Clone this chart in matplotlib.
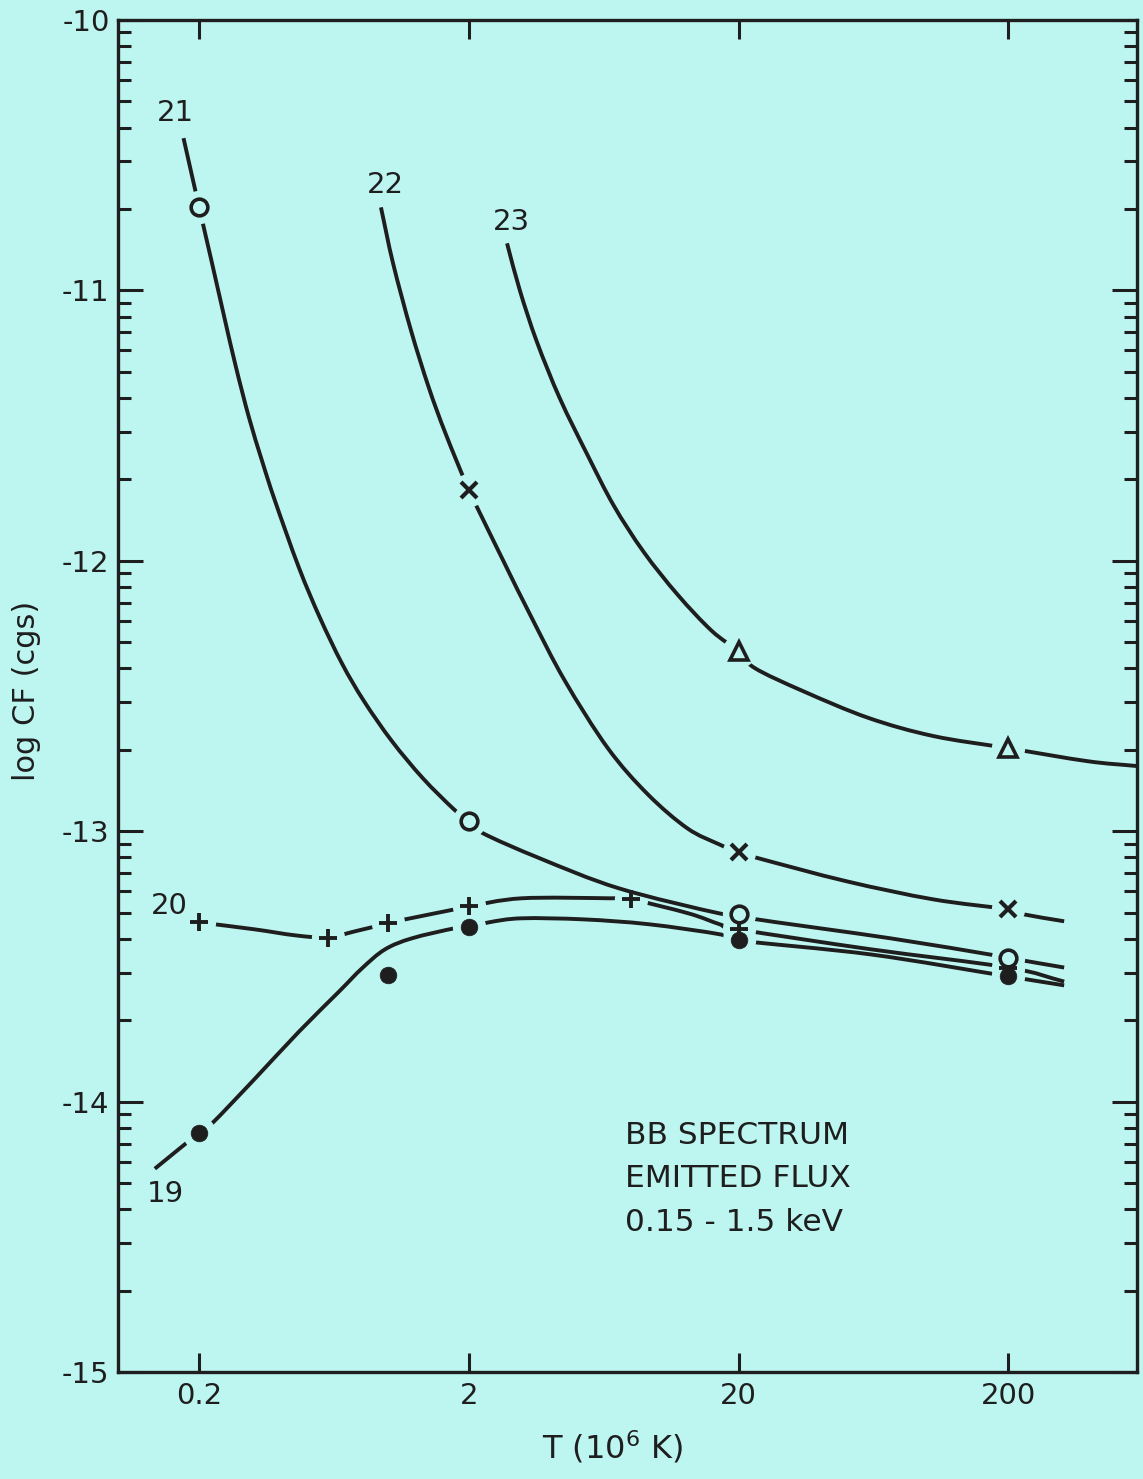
import numpy as np
import matplotlib
matplotlib.use("Agg")
import matplotlib.pyplot as plt
from matplotlib.path import Path
from matplotlib.patches import PathPatch
from matplotlib.ticker import FixedLocator, NullLocator

# curves: T (10^6 K) vs log CF (cgs), one per column density label
t21 = [0.175, 0.2, 0.222, 0.248, 0.274, 0.306, 0.342, 0.382, 0.469, 0.561, 0.678, 0.817,
       1.037, 1.35, 1.76, 2.0, 2.25, 3.66, 7.19, 17.0, 20.0, 22.0, 73.1, 171, 200, 227, 322]
cf21 = [-10.437, -10.693, -10.889, -11.100, -11.285, -11.470, -11.630, -11.778, -12.026,
        -12.211, -12.381, -12.519, -12.667, -12.804, -12.919, -12.963, -13.007, -13.100, -13.211,
        -13.304, -13.307, -13.322, -13.396, -13.456, -13.467, -13.478, -13.504]

t22 = [0.944, 1.047, 1.22, 1.42, 1.64, 2.0, 2.65, 3.42, 4.54, 6.55, 9.20, 12.9, 16.9,
       20.0, 23.7, 50.2, 105.4, 200, 227, 322]
cf22 = [-10.693, -10.900, -11.148, -11.359, -11.530, -11.737, -11.989, -12.211, -12.444,
        -12.693, -12.863, -12.989, -13.048, -13.078, -13.100, -13.185, -13.252, -13.289, -13.307,
        -13.333]

t23 = [2.77, 3.09, 3.57, 4.35, 5.52, 6.89, 8.89, 11.9, 15.9, 20.0, 22.9, 34.5, 60.6, 105.4,
       200, 393, 600]
cf23 = [-10.826, -11.000, -11.189, -11.400, -11.611, -11.796, -11.967, -12.126, -12.259, -12.335,
        -12.396, -12.481, -12.581, -12.648, -12.693, -12.741, -12.759]

t20 = [0.2, 0.322, 0.454, 0.6, 0.757, 1.0, 1.16, 1.77, 2.0, 3.14, 6.65, 8.0, 13.06, 17.0, 20.0,
       62.2, 200, 322]
cf20 = [-13.337, -13.363, -13.385, -13.393, -13.370, -13.341, -13.326, -13.289, -13.278, -13.248,
        -13.248, -13.252, -13.304, -13.344, -13.363, -13.437, -13.504, -13.556]

t19 = [0.137, 0.2, 0.223, 0.322, 0.469, 0.660, 0.803, 0.977, 1.23, 1.77, 2.0, 2.37, 3.14, 5.33,
       9.29, 17.0, 20.0, 62.2, 200, 322]
cf19 = [-14.248, -14.115, -14.081, -13.915, -13.741, -13.593, -13.507, -13.437, -13.396, -13.359,
        -13.356, -13.337, -13.322, -13.326, -13.344, -13.381, -13.404, -13.456, -13.537, -13.570]

# computed points marked on each curve
mt21 = [0.2, 2, 20, 200]
mcf21 = [-10.693, -12.963, -13.307, -13.467]
mt22 = [2, 20, 200]
mcf22 = [-11.737, -13.078, -13.289]
mt23 = [20, 200]
mcf23 = [-12.335, -12.693]
mt20 = [0.2, 0.6, 1, 2, 8, 20, 200]
mcf20 = [-13.337, -13.393, -13.341, -13.278, -13.252, -13.363, -13.504]
mt19 = [0.2, 1, 2, 20, 200]
mcf19 = [-14.115, -13.530, -13.356, -13.404, -13.537]

xticks = [0.2, 2, 20, 200]
xtick_labels = ["0.2", "2", "20", "200"]
yticks = [-15, -14, -13, -12, -11, -10]
ytick_labels = ["-15", "-14", "-13", "-12", "-11", "-10"]

BG = "#bdf6f1"
INK = "#1e1e1e"

plt.rcParams["font.family"] = "DejaVu Sans"


def smooth_path(t, cf):
    """Catmull-Rom curve through the points, built as cubic Bezier segments
    in (log T, log CF) so it stays smooth on the log axis."""
    p = np.column_stack([np.log10(t), cf])
    ext = np.vstack([2 * p[0] - p[1], p, 2 * p[-1] - p[-2]])
    verts = [p[0]]
    codes = [Path.MOVETO]
    for i in range(1, len(ext) - 2):
        c1 = ext[i] + (ext[i + 1] - ext[i - 1]) / 6
        c2 = ext[i + 1] - (ext[i + 2] - ext[i]) / 6
        verts += [c1, c2, ext[i + 1]]
        codes += [Path.CURVE4] * 3
    verts = np.array(verts)
    verts[:, 0] = 10 ** verts[:, 0]
    return Path(verts, codes)


fig = plt.figure(figsize=(11.43, 14.79), dpi=100, facecolor=BG)
ax = fig.add_axes([0.1032, 0.0723, 0.8916, 0.9142], facecolor=BG)

ax.set_xscale("log")
ax.set_xlim(0.1, 600)
ax.set_ylim(-15, -10)

# each curve in its own layer: line, then a blank patch around its markers
curves = [(t19, cf19, mt19, mcf19), (t20, cf20, mt20, mcf20), (t21, cf21, mt21, mcf21),
          (t22, cf22, mt22, mcf22), (t23, cf23, mt23, mcf23)]
for k, (t, cf, mt, mcf) in enumerate(curves):
    z = 2 + k
    ax.add_patch(PathPatch(smooth_path(t, cf), fill=False, edgecolor=INK, lw=2.8,
                           capstyle="butt", transform=ax.transData, zorder=z))
    ax.plot(mt, mcf, ls="none", marker="o", ms=24, mfc=BG, mec="none", zorder=z + 0.5)

ax.plot(mt20, mcf20, ls="none", marker="+", ms=12.5, mec=INK, mew=2.8, zorder=10)
ax.plot(mt21, mcf21, ls="none", marker="o", ms=12, mfc=BG, mec=INK, mew=2.6, zorder=11)
ax.plot(mt22, mcf22, ls="none", marker="x", ms=12, mec=INK, mew=3.0, zorder=11)
ax.plot(mt23, mcf23, ls="none", marker="^", ms=13.5, mfc=BG, mec=INK, mew=2.6, zorder=11)
ax.plot(mt19, mcf19, ls="none", marker="o", ms=12, mfc=INK, mec=INK, mew=0.5, zorder=12)

# curve labels
lab_kw = dict(fontsize=21, color=INK, ha="center", va="center")
ax.text(0.163, -10.344, "21", **lab_kw)
ax.text(0.978, -10.611, "22", **lab_kw)
ax.text(2.88, -10.748, "23", **lab_kw)
ax.text(0.155, -13.278, "20", **lab_kw)
ax.text(0.150, -14.341, "19", **lab_kw)

# note
for i, line in enumerate(["BB SPECTRUM", "EMITTED FLUX", "0.15 - 1.5 keV"]):
    ax.text(0.4975, 0.175 - i * 0.0322, line, transform=ax.transAxes,
            fontsize=22.5, color=INK, ha="left", va="center")

# axes and ticks
ax.xaxis.set_major_locator(FixedLocator(xticks))
ax.xaxis.set_minor_locator(NullLocator())
ax.set_xticklabels(xtick_labels)
ax.set_yticks(yticks)
ax.set_yticklabels(ytick_labels)
ax.yaxis.set_minor_locator(FixedLocator(
    [d + np.log10(k) for d in range(-15, -10) for k in range(2, 10)]))

ax.tick_params(axis="x", which="major", direction="in", top=True, bottom=True,
               length=14, width=2.2, color=INK, labelsize=21, labelcolor=INK, pad=7)
ax.tick_params(axis="y", which="major", direction="in", left=True, right=True,
               length=18, width=2.2, color=INK, labelsize=21, labelcolor=INK, pad=6)
ax.tick_params(axis="y", which="minor", direction="in", left=True, right=True,
               length=9.5, width=2.2, color=INK)

for s in ax.spines.values():
    s.set_linewidth(2.4)
    s.set_color(INK)

ax.set_xlabel(r"T (10$^6$ K)", fontsize=23, color=INK, va="center")
ax.xaxis.set_label_coords(0.485, -0.0555)
ax.set_ylabel("log CF (cgs)", fontsize=22, color=INK, va="center")
ax.yaxis.set_label_coords(-0.0893, 0.504)

fig.savefig("out.png", dpi=100, facecolor=BG)
